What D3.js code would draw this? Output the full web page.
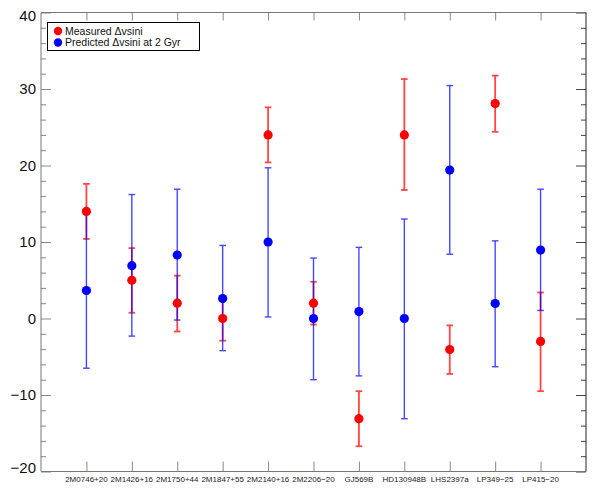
<!DOCTYPE html>
<html><head><meta charset="utf-8">
<script src="https://cdn.jsdelivr.net/npm/d3@7"></script>
<style>body{margin:0;background:#fff}svg{display:block}</style>
</head><body>
<script>
const categories = ["2M0746+20","2M1426+16","2M1750+44","2M1847+55","2M2140+16","2M2206\u221220","GJ569B","HD130948B","LHS2397a","LP349\u221225","LP415\u221220"];
const measured     = [14.0, 5.0, 2.0, 0.0, 24.0, 2.0, -13.1, 24.0, -4.05, 28.1, -3.0];
const measuredLow  = [10.4, 0.75, -1.7, -2.9, 20.4, -0.8, -16.7, 16.8, -7.25, 24.4, -9.5];
const measuredHigh = [17.6, 9.2, 5.6, 2.9, 27.6, 4.8, -9.5, 31.3, -0.9, 31.75, 3.4];
const predicted     = [3.66, 6.9, 8.3, 2.6, 10.0, 0.0, 0.9, 0.0, 19.4, 1.96, 8.94];
const predictedLow  = [-6.5, -2.3, -0.2, -4.2, 0.2, -8.0, -7.5, -13.1, 8.4, -6.3, 1.05];
const predictedHigh = [13.9, 16.2, 16.9, 9.55, 19.7, 7.9, 9.3, 13.0, 30.45, 10.15, 16.9];
const yTicks = [-20, -10, 0, 10, 20, 30, 40];
const legendLabels = ["Measured \u0394vsini", "Predicted \u0394vsini at 2 Gyr"];

const W = 598, H = 498;
const L = 41, R = 586, T = 12.5, B = 471.5;
const svg = d3.select("body").append("svg").attr("width", W).attr("height", H);
const x = d3.scaleLinear().domain([0, 12]).range([L, R]);
const y = d3.scaleLinear().domain([-20, 40]).range([B, T]);

const tickCol = "#888";
// minor ticks
const minor = d3.range(-20, 41, 2).filter(v => v % 10 !== 0);
const g = svg.append("g");
// left axis
g.append("g").attr("transform", `translate(${L},0)`)
  .call(d3.axisRight(y).tickValues(minor).tickSize(5).tickFormat(""))
  .call(s => s.select(".domain").remove())
  .call(s => s.selectAll("line").attr("stroke", tickCol));
g.append("g").attr("transform", `translate(${L},0)`)
  .call(d3.axisRight(y).tickValues(yTicks).tickSize(10).tickFormat(""))
  .call(s => s.select(".domain").remove())
  .call(s => s.selectAll("line").attr("stroke", tickCol));
// right axis
g.append("g").attr("transform", `translate(${R},0)`)
  .call(d3.axisLeft(y).tickValues(minor).tickSize(5).tickFormat(""))
  .call(s => s.select(".domain").remove())
  .call(s => s.selectAll("line").attr("stroke", "#444"));
g.append("g").attr("transform", `translate(${R},0)`)
  .call(d3.axisLeft(y).tickValues(yTicks).tickSize(10).tickFormat(""))
  .call(s => s.select(".domain").remove())
  .call(s => s.selectAll("line").attr("stroke", "#444"));
// bottom / top x ticks
const xt = d3.range(1, 12);
g.append("g").attr("transform", `translate(0,${B})`)
  .call(d3.axisTop(x).tickValues(xt).tickSize(10).tickFormat(""))
  .call(s => s.select(".domain").remove())
  .call(s => s.selectAll("line").attr("stroke", tickCol));
g.append("g").attr("transform", `translate(0,${T})`)
  .call(d3.axisBottom(x).tickValues(xt).tickSize(8).tickFormat(""))
  .call(s => s.select(".domain").remove())
  .call(s => s.selectAll("line").attr("stroke", tickCol));

// frame
svg.append("line").attr("x1", L).attr("x2", L).attr("y1", T).attr("y2", B).attr("stroke", "#777");
svg.append("line").attr("x1", L).attr("x2", R).attr("y1", B).attr("y2", B).attr("stroke", "#777");
svg.append("line").attr("x1", L).attr("x2", R).attr("y1", T).attr("y2", T).attr("stroke", "#777");
svg.append("line").attr("x1", R).attr("x2", R).attr("y1", T).attr("y2", B).attr("stroke", "#222");

// y labels
svg.append("g").selectAll("text").data(yTicks).join("text")
  .attr("x", 36).attr("y", d => Math.min(Math.max(y(d), 16), 467.5))
  .attr("dy", "0.36em").attr("text-anchor", "end")
  .attr("font-family", "Liberation Sans, Arial, sans-serif").attr("font-size", 15).attr("fill", "#111")
  .text(d => d < 0 ? "\u2212" + Math.abs(d) : d);

// x labels
svg.append("g").selectAll("text").data(categories).join("text")
  .attr("x", (d, i) => x(i + 1)).attr("y", 481.5).attr("text-anchor", "middle")
  .attr("font-family", "Liberation Sans, Arial, sans-serif").attr("font-size", 8).attr("fill", "#222")
  .text(d => d);

function errBars(vals, lo, hi, col, sw) {
  const gg = svg.append("g").attr("stroke", col).attr("stroke-width", sw).attr("opacity", 0.72);
  vals.forEach((v, i) => {
    const cx = x(i + 1);
    gg.append("line").attr("x1", cx).attr("x2", cx).attr("y1", y(lo[i])).attr("y2", y(hi[i]));
    gg.append("line").attr("x1", cx - 3.3).attr("x2", cx + 3.3).attr("y1", y(lo[i])).attr("y2", y(lo[i]));
    gg.append("line").attr("x1", cx - 3.3).attr("x2", cx + 3.3).attr("y1", y(hi[i])).attr("y2", y(hi[i]));
  });
}
errBars(measured, measuredLow, measuredHigh, "#ff0000", 1.8);
errBars(predicted, predictedLow, predictedHigh, "#0000ff", 1.4);

svg.append("g").selectAll("circle").data(measured).join("circle")
  .attr("cx", (d, i) => x(i + 1)).attr("cy", d => y(d)).attr("r", 4.6).attr("fill", "#ff0000");
svg.append("g").selectAll("circle").data(predicted).join("circle")
  .attr("cx", (d, i) => x(i + 1)).attr("cy", d => y(d)).attr("r", 4.6).attr("fill", "#0000ff");

// legend
const lg = svg.append("g");
lg.append("rect").attr("x", 47.5).attr("y", 22.5).attr("width", 152).attr("height", 28)
  .attr("fill", "#fff").attr("stroke", "#000").attr("stroke-width", 1);
const cols = ["#ff0000", "#0000ff"];
legendLabels.forEach((t, i) => {
  lg.append("circle").attr("cx", 58).attr("cy", 31 + i * 11.5).attr("r", 4.2).attr("fill", cols[i]);
  lg.append("text").attr("x", 65).attr("y", 31 + i * 11.5).attr("dy", "0.36em")
    .attr("font-family", "Liberation Sans, Arial, sans-serif").attr("font-size", 10.5).attr("fill", "#111").text(t);
});
</script>
</body></html>
